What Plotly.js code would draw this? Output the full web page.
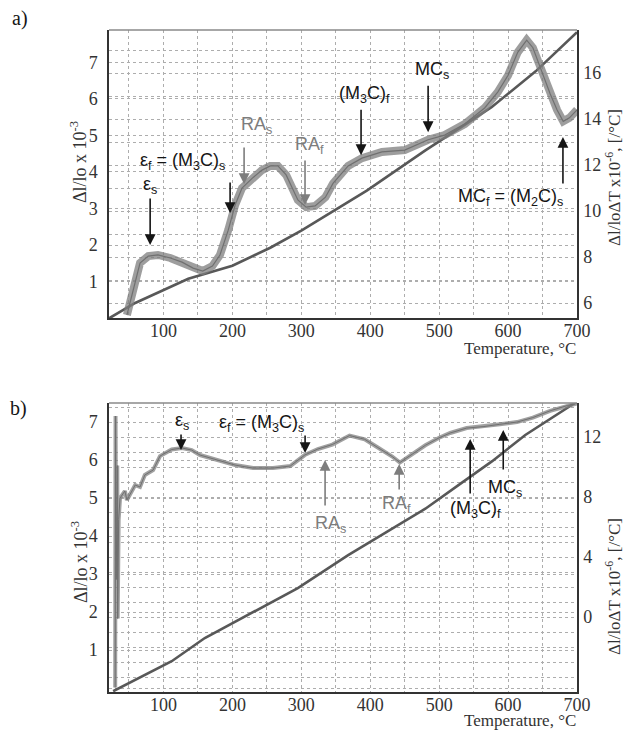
<!DOCTYPE html>
<html>
<head>
<meta charset="utf-8">
<script src="https://cdn.plot.ly/plotly-3.0.1.min.js"></script>
<style>body{margin:0;background:#fff}#chart{width:624px;height:730px}</style>
</head>
<body>
<div id="chart"></div>
<script>
// ---------- Panel a) data ----------
const tempDilA = [21, 59, 136, 200, 255, 300, 395, 480, 528, 576, 640, 700];
const dilA     = [0.0, 0.42, 1.08, 1.44, 1.93, 2.40, 3.49, 4.59, 5.18, 5.77, 6.75, 7.82];

const tempCteA = [47, 56, 66, 78, 92, 110, 127, 143, 157, 171, 182, 194, 204, 214, 229, 243, 255, 266, 278, 295, 307, 320, 335, 346, 368, 388, 417, 450, 484, 508, 537, 566, 585, 600, 614, 627, 636, 646, 661, 671, 680, 689, 700];
const cteA     = [5.48, 6.57, 7.74, 8.04, 8.09, 7.96, 7.78, 7.52, 7.39, 7.61, 8.09, 9.17, 10.26, 11.0, 11.43, 11.78, 11.96, 11.96, 11.57, 10.48, 10.17, 10.22, 10.6, 11.2, 11.96, 12.3, 12.57, 12.65, 13.1, 13.3, 13.78, 14.48, 15.17, 15.9, 16.9, 17.43, 17.1, 16.3, 15.1, 14.4, 13.9, 14.05, 14.4];

// ---------- Panel b) data ----------
const tempDilB = [27, 112, 160, 255, 295, 368, 440, 480, 528, 577, 625, 693, 697];
const dilB     = [-0.08, 0.71, 1.32, 2.24, 2.63, 3.5, 4.29, 4.72, 5.34, 5.97, 6.66, 7.45, 7.5];

const tempCteB = [30, 30.5, 31.5, 33, 33.6, 35, 37, 44, 47, 59, 66, 73, 85, 95, 112, 127, 141, 153, 178, 204, 230, 259, 284, 298, 305, 324, 345, 370, 392, 411, 432, 443, 461, 480, 500, 516, 540, 565, 588, 613, 636, 661, 686, 700];
const cteB     = [-4.7, 13.4, 2.5, 10.1, -0.1, 6.5, 7.93, 8.4, 7.8, 8.8, 8.67, 9.47, 9.8, 10.73, 11.17, 11.27, 11.13, 10.8, 10.47, 10.13, 9.93, 9.93, 10.07, 10.55, 10.8, 11.2, 11.5, 12.1, 11.85, 11.3, 10.7, 10.3, 10.85, 11.45, 11.95, 12.27, 12.6, 12.7, 12.85, 13.0, 13.3, 13.75, 14.1, 14.25];

// ---------- Tick labels ----------
const xTickVals   = [100, 200, 300, 400, 500, 600, 700];
const xTickText   = ['100', '200', '300', '400', '500', '600', '700'];
const leftTickVals = [0, 1, 2, 3, 4, 5, 6, 7];
const leftTickText = [' ', '1', '2', '3', '4', '5', '6', '7'];
const rightATickVals = [6, 8, 10, 12, 14, 16];
const rightBTickVals = [-4, 0, 4, 8, 12];
const rightBTickText = [' ', '0', '4', '8', '12'];

// ---------- Texts ----------
const panelLabels = ['a)', 'b)'];
const leftTitle  = 'Δl/lo x 10<sup>-3</sup>';
const rightTitle = 'Δl/loΔT x10<sup>-6</sup>, [/°C]';
const xTitle     = 'Temperature, °C';
const eps_s  = 'ε<sub>s</sub>';
const eps_f  = 'ε<sub>f</sub> = (M<sub>3</sub>C)<sub>s</sub>';
const ra_s   = 'RA<sub>s</sub>';
const ra_f   = 'RA<sub>f</sub>';
const m3c_f  = '(M<sub>3</sub>C)<sub>f</sub>';
const mc_s   = 'MC<sub>s</sub>';
const mc_f   = 'MC<sub>f</sub> = (M<sub>2</sub>C)<sub>s</sub>';

// ---------- Styling ----------
const W = 624, H = 730;
const SERIF = 'Liberation Serif';
const SANS = 'Liberation Sans';
const GRID = '#adadad';
const BLACK = '#151515';
const GRAY = '#7d7d7d';
const xDom = [109 / W, 577 / W];
const yDomA = [1 - 318 / H, 1 - 30 / H];
const yDomB = [1 - 692 / H, 1 - 403 / H];

const traces = [
  {x: tempDilA, y: dilA, xaxis: 'x', yaxis: 'y', mode: 'lines', line: {color: '#585858', width: 2.6}, hoverinfo: 'skip'},
  {x: tempCteA, y: cteA, xaxis: 'x', yaxis: 'y2', mode: 'lines', line: {color: 'rgba(125,125,125,0.75)', width: 8}, hoverinfo: 'skip'},
  {x: tempCteA, y: cteA, xaxis: 'x', yaxis: 'y2', mode: 'lines', line: {color: '#707070', width: 1.2}, hoverinfo: 'skip'},
  {x: tempDilB, y: dilB, xaxis: 'x2', yaxis: 'y3', mode: 'lines', line: {color: '#585858', width: 2.6}, hoverinfo: 'skip'},
  {x: tempCteB, y: cteB, xaxis: 'x2', yaxis: 'y4', mode: 'lines', line: {color: 'rgba(130,130,130,0.75)', width: 4}, hoverinfo: 'skip'},
  {x: tempCteB, y: cteB, xaxis: 'x2', yaxis: 'y4', mode: 'lines', line: {color: '#707070', width: 1}, hoverinfo: 'skip'}
];

function xAxis(anchor) {
  return {
    domain: xDom, anchor: anchor, range: [21, 700],
    tickmode: 'array', tickvals: xTickVals, ticktext: xTickText,
    showgrid: true, gridcolor: GRID, griddash: 'dot', gridwidth: 1,
    minor: {tickmode: 'linear', tick0: 0, dtick: 50, showgrid: true, gridcolor: GRID, griddash: 'dot', gridwidth: 1},
    showline: true, linecolor: '#333', linewidth: 1.6, ticks: '', zeroline: false,
    ticklabelstandoff: -4,
    tickfont: {family: SERIF, size: 18, color: '#333'}, fixedrange: true
  };
}
function leftAxis(anchor, dom, range) {
  return {
    domain: dom, anchor: anchor, range: range,
    tickmode: 'array', tickvals: leftTickVals, ticktext: leftTickText,
    showgrid: true, gridcolor: GRID, griddash: 'dot', gridwidth: 1,
    showline: true, linecolor: '#333', linewidth: 1.6, ticks: '', zeroline: false,
    ticklabelstandoff: 6,
    tickfont: {family: SERIF, size: 18, color: '#333'}, fixedrange: true
  };
}
function rightAxis(over, anchor, range, vals, text) {
  const ax = {
    overlaying: over, anchor: anchor, side: 'right', range: range,
    tickmode: 'array', tickvals: vals,
    showgrid: true, gridcolor: GRID, griddash: 'dot', gridwidth: 1,
    minor: {tickmode: 'linear', tick0: 0, dtick: 1, showgrid: true, gridcolor: GRID, griddash: 'dot', gridwidth: 1},
    showline: true, linecolor: '#333', linewidth: 1.6, ticks: '', zeroline: false,
    ticklabelstandoff: 1,
    tickfont: {family: SERIF, size: 18, color: '#333'}, fixedrange: true
  };
  if (text) ax.ticktext = text;
  return ax;
}

function txt(px, py, text, color, size, family, opts) {
  return Object.assign({
    x: px / W, y: 1 - py / H, xref: 'paper', yref: 'paper', text: text, showarrow: false,
    font: {family: family, size: size, color: color}, xanchor: 'center', yanchor: 'middle'
  }, opts || {});
}
function arr(x, y, xref, yref, ay, color) {
  return {x: x, y: y, xref: xref, yref: yref, text: '', showarrow: true, ax: 0, ay: ay,
    arrowhead: 2, arrowsize: 1.35, arrowwidth: 1.6, arrowcolor: color, standoff: 0};
}

const annotations = [
  // panel labels
  txt(20, 19, panelLabels[0], BLACK, 20, SERIF),
  txt(18, 408, panelLabels[1], BLACK, 20, SERIF),
  // axis titles panel a
  txt(79, 162, leftTitle, '#333', 18, SERIF, {textangle: -90}),
  txt(613, 178, rightTitle, '#333', 17, SERIF, {textangle: -90}),
  txt(578, 348, xTitle, '#333', 17, SERIF, {xanchor: 'right'}),
  // axis titles panel b
  txt(79, 562, leftTitle, '#333', 18, SERIF, {textangle: -90}),
  txt(613, 587, rightTitle, '#333', 17, SERIF, {textangle: -90}),
  txt(578, 720, xTitle, '#333', 17, SERIF, {xanchor: 'right'}),
  // panel a phase labels
  txt(150, 185, eps_s, BLACK, 18, SANS),
  txt(182, 162, eps_f, BLACK, 18, SANS),
  txt(256, 125, ra_s, GRAY, 18, SANS),
  txt(309, 146, ra_f, GRAY, 18, SANS),
  txt(364, 94, m3c_f, BLACK, 18, SANS),
  txt(432, 71, mc_s, BLACK, 18, SANS),
  txt(510, 197, mc_f, BLACK, 18, SANS),
  arr(80.7, 8.52, 'x', 'y2', -48, BLACK),
  arr(196.7, 9.91, 'x', 'y2', -32, BLACK),
  arr(217, 11.17, 'x', 'y2', -38, GRAY),
  arr(305.4, 10.26, 'x', 'y2', -46, GRAY),
  arr(386.7, 12.43, 'x', 'y2', -47, BLACK),
  arr(484, 13.43, 'x', 'y2', -48, BLACK),
  arr(679.6, 13.22, 'x', 'y2', 48, BLACK),
  // panel b phase labels
  txt(182, 421, eps_s, BLACK, 18, SANS),
  txt(261, 424, eps_f, BLACK, 18, SANS),
  txt(330, 524, ra_s, GRAY, 18, SANS),
  txt(396, 504, ra_f, GRAY, 18, SANS),
  txt(475, 509, m3c_f, BLACK, 18, SANS),
  txt(505, 488, mc_s, BLACK, 18, SANS),
  arr(125.5, 11.13, 'x2', 'y4', -17, BLACK),
  arr(305.5, 10.93, 'x2', 'y4', -19, BLACK),
  arr(334.5, 10.47, 'x2', 'y4', 47, GRAY),
  arr(442, 10.2, 'x2', 'y4', 27, GRAY),
  arr(545, 11.87, 'x2', 'y4', 56, BLACK),
  arr(593, 12.47, 'x2', 'y4', 41, BLACK)
];

const layout = {
  width: W, height: H,
  margin: {l: 0, r: 0, t: 0, b: 0},
  paper_bgcolor: '#fff', plot_bgcolor: '#fff',
  showlegend: false,
  xaxis: xAxis('y'),
  yaxis: leftAxis('x', yDomA, [0.01, 7.88]),
  yaxis2: rightAxis('y', 'x', [5.35, 17.87], rightATickVals, null),
  xaxis2: xAxis('y3'),
  yaxis3: leftAxis('x2', yDomB, [-0.1, 7.5]),
  yaxis4: rightAxis('y3', 'x2', [-5, 14.27], rightBTickVals, rightBTickText),
  annotations: annotations,
  shapes: [
    {type: 'line', xref: 'paper', yref: 'paper', x0: xDom[0], x1: xDom[1], y0: yDomA[1], y1: yDomA[1], line: {color: '#8a8a8a', width: 1.5}},
    {type: 'line', xref: 'paper', yref: 'paper', x0: xDom[0], x1: xDom[1], y0: yDomB[1], y1: yDomB[1], line: {color: '#8a8a8a', width: 1.5}}
  ]
};

Plotly.newPlot('chart', traces, layout, {staticPlot: true, displayModeBar: false});
</script>
</body>
</html>
